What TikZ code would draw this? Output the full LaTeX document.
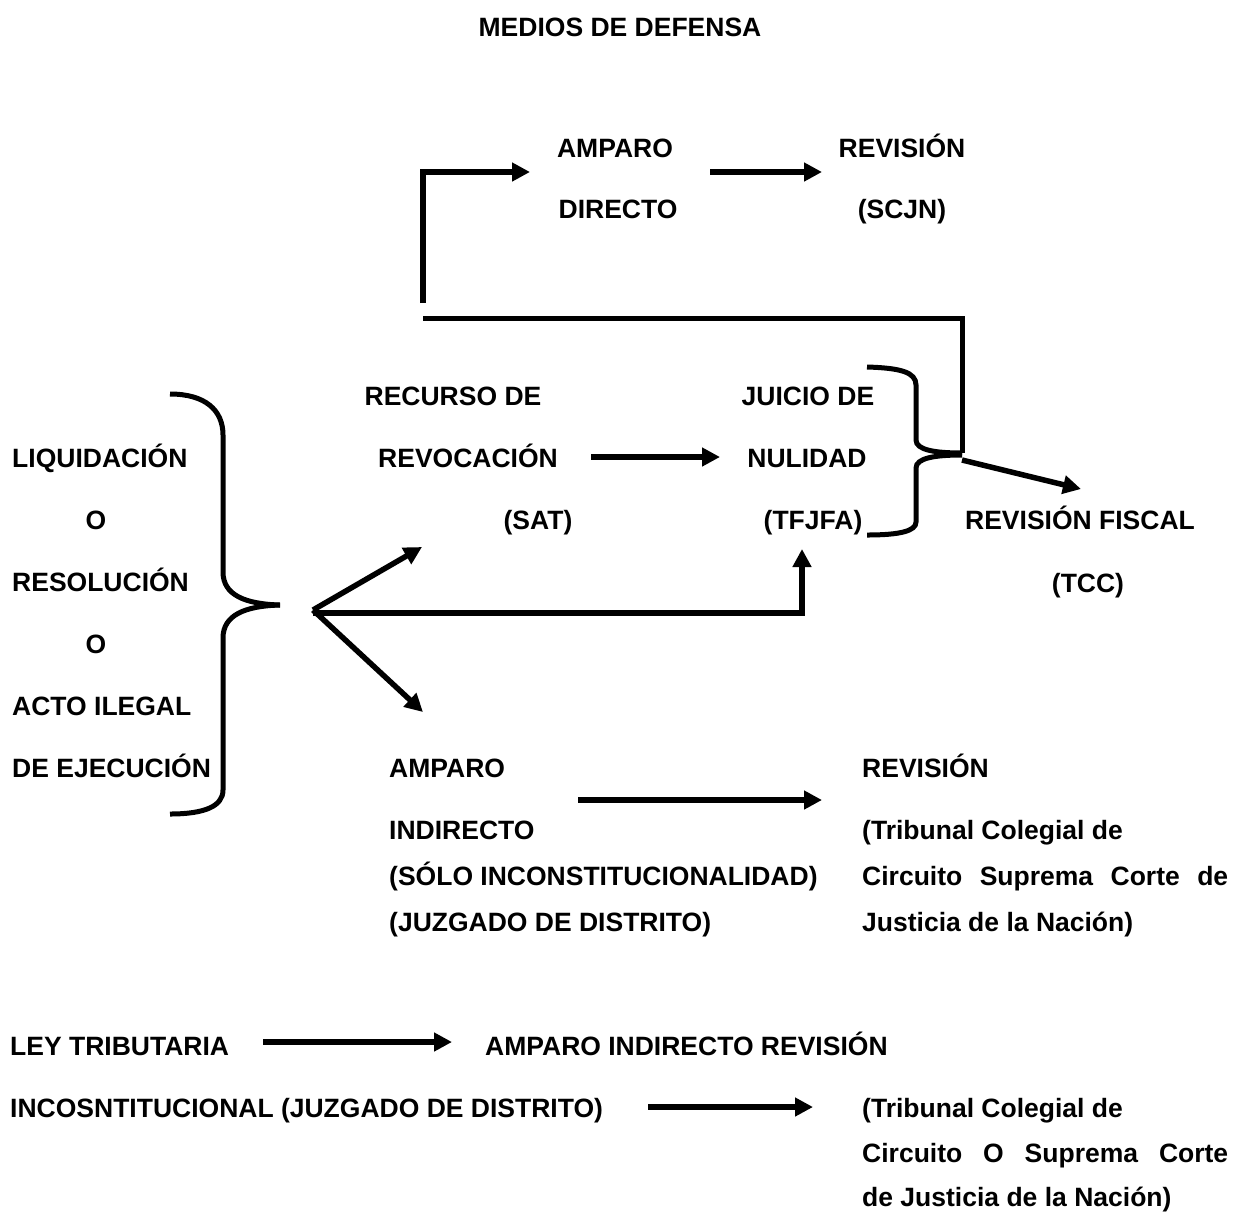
\documentclass[tikz,border=0pt]{standalone}
\usepackage{fontspec}
\setmainfont{Liberation Sans}
\usetikzlibrary{arrows.meta}
\begin{document}
\begin{tikzpicture}[x=1pt,y=-1pt,
  lbl/.style={inner sep=0pt, font=\fontsize{26.5}{30}\selectfont\bfseries, anchor=base},
  lblw/.style={lbl, anchor=base west},
  conn/.style={line width=5pt},
  arr/.style={line width=5.5pt, -{Triangle[length=18pt,width=18pt]}}]
\useasboundingbox (0,0) rectangle (1241,1213);
% title
\node[lbl] (title) at (620,36.5) {MEDIOS DE DEFENSA};
% top
\node[lbl] (ad1) at (615,157.5) {AMPARO};
\node[lbl] (ad2) at (618,218.5) {DIRECTO};
\node[lbl] (rs1) at (902,157.5) {REVISIÓN};
\node[lbl] (rs2) at (902,218.5) {(SCJN)};
% middle
\node[lbl] (rr1) at (453,405.5) {RECURSO DE};
\node[lbl] (rr2) at (468,467.5) {REVOCACIÓN};
\node[lbl] (rr3) at (538,529.5) {(SAT)};
\node[lbl] (jn1) at (808,405.5) {JUICIO DE};
\node[lbl] (jn2) at (807,467.5) {NULIDAD};
\node[lbl] (jn3) at (813,529.5) {(TFJFA)};
\node[lbl] (rf1) at (1080,529.5) {REVISIÓN FISCAL};
\node[lbl] (rf2) at (1088,592.5) {(TCC)};
% left column
\node[lblw] (l1) at (12,467.5) {LIQUIDACIÓN};
\node[lbl]  (l2) at (96,529.5) {O};
\node[lblw] (l3) at (12,591.5) {RESOLUCIÓN};
\node[lbl]  (l4) at (96,653.5) {O};
\node[lblw] (l5) at (12,715.5) {ACTO ILEGAL};
\node[lblw] (l6) at (12,777.5) {DE EJECUCIÓN};
% amparo indirecto
\node[lblw] (ai1) at (389,777.5) {AMPARO};
\node[lblw] (ai2) at (389,839.5) {INDIRECTO};
\node[lblw] (ai3) at (389,885.5) {(SÓLO INCONSTITUCIONALIDAD)};
\node[lblw] (ai4) at (389,931.5) {(JUZGADO DE DISTRITO)};
\node[lblw] (rv1) at (862,777.5) {REVISIÓN};
\node[lblw] (rv2) at (862,839.5) {(Tribunal Colegial de};
\node[lblw] (rv3) at (862,885.5) {\makebox[366pt][s]{Circuito\hfill Suprema\hfill Corte\hfill de}};
\node[lblw] (rv4) at (862,931.5) {Justicia de la Nación)};
% bottom
\node[lblw] (b1) at (10,1055.5) {LEY TRIBUTARIA};
\node[lblw] (b2) at (485,1055.5) {AMPARO INDIRECTO REVISIÓN};
\node[lblw] (b3) at (10,1117.5) {INCOSNTITUCIONAL (JUZGADO DE DISTRITO)};
\node[lblw] (b4) at (862,1117.5) {(Tribunal Colegial de};
\node[lblw] (b5) at (862,1162.5) {\makebox[366pt][s]{Circuito\hfill O\hfill Suprema\hfill Corte}};
\node[lblw] (b6) at (862,1206.5) {de Justicia de la Nación)};
% coordinates
\coordinate (adS) at (423,303);
\coordinate (adT) at (530,172);
\coordinate (rsS) at (710,172);
\coordinate (rsT) at (822,172);
\coordinate (hL) at (423,318);
\coordinate (hR) at (962,318);
\coordinate (bt) at (962,453);
\coordinate (rfS) at (962,460);
\coordinate (rfT) at (1081,489);
\coordinate (rrS) at (591,457);
\coordinate (rrT) at (720,457);
\coordinate (fan) at (313,610);
\coordinate (fanU) at (422,547);
\coordinate (fanD) at (423,712);
\coordinate (hS) at (313,613);
\coordinate (upT) at (802,549);
\coordinate (aiS) at (578,800);
\coordinate (aiT) at (822,800);
\coordinate (b1S) at (263,1042);
\coordinate (b1T) at (452,1042);
\coordinate (b2S) at (648,1107);
\coordinate (b2T) at (813,1107);
% connectors
\draw[arr] (adS) |- (adT);
\draw[arr] (rsS) -- (rsT);
\draw[conn] (hL) -- (hR) -- (bt);
\draw[arr] (rfS) -- (rfT);
\draw[arr] (rrS) -- (rrT);
\draw[arr] (fan) -- (fanU);
\draw[arr] (fan) -- (fanD);
\draw[arr] (hS) -| (upT);
\draw[arr] (aiS) -- (aiT);
\draw[arr] (b1S) -- (b1T);
\draw[arr] (b2S) -- (b2T);
% big brace
\draw[conn] (170,394) .. controls (205,394) and (223,410) .. (223,435) -- (223,572)
  .. controls (223,595) and (245,604) .. (280,605);
\draw[conn] (280,605) .. controls (245,606) and (223,615) .. (223,638) -- (223,790)
  .. controls (223,806) and (205,814) .. (170,814);
% small brace
\draw[conn] (867,367) .. controls (900,368) and (916,372) .. (916,385) -- (916,440)
  .. controls (916,450) and (935,453) .. (962,453);
\draw[conn] (962,455) .. controls (935,455) and (916,458) .. (916,468) -- (916,522)
  .. controls (916,531) and (900,535) .. (867,535);
\end{tikzpicture}
\end{document}
